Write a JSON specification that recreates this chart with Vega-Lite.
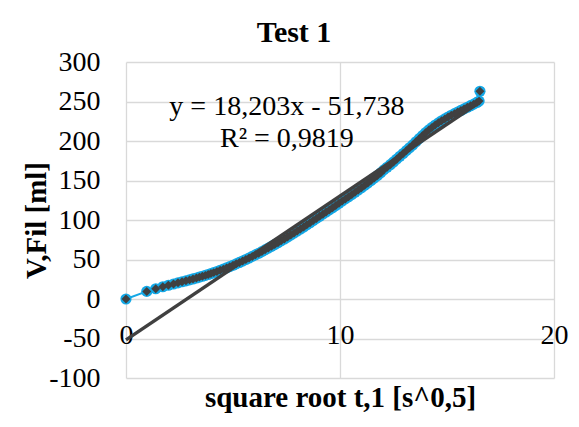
{
  "$schema": "https://vega.github.io/schema/vega-lite/v6.json",
  "width": 428,
  "height": 316,
  "autosize": {"type": "none"},
  "padding": {"left": 126, "top": 62, "right": 25, "bottom": 49},
  "background": "white",
  "title": {
    "text": "Test 1",
    "font": "Liberation Serif",
    "fontSize": 30,
    "fontWeight": "bold",
    "color": "black",
    "anchor": "middle",
    "frame": "group",
    "dx": -46,
    "baseline": "alphabetic",
    "offset": -24
  },
  "config": {
    "view": {"stroke": null},
    "axis": {
      "labelFont": "Liberation Serif",
      "labelFontSize": 28,
      "labelColor": "black",
      "titleFont": "Liberation Serif",
      "titleFontSize": 29,
      "titleFontWeight": "bold",
      "titleColor": "black",
      "gridColor": "#d9d9d9",
      "gridWidth": 1.3,
      "domain": false,
      "ticks": false,
      "tickSize": 0,
      "labelExpr": "'' + datum.value"
    }
  },
  "datasets": {
    "series": [
      {"x": 0, "y": 0}, {"x": 0.97, "y": 9.6}, {"x": 1.39, "y": 13}, {"x": 1.72, "y": 15.5},
      {"x": 1.98, "y": 17.4}, {"x": 2.22, "y": 19}, {"x": 2.43, "y": 20.5}, {"x": 2.62, "y": 21.8},
      {"x": 2.8, "y": 23}, {"x": 2.97, "y": 24.2}, {"x": 3.13, "y": 25.4}, {"x": 3.29, "y": 26.6},
      {"x": 3.43, "y": 27.7}, {"x": 3.57, "y": 28.8}, {"x": 3.71, "y": 29.9}, {"x": 3.84, "y": 31},
      {"x": 3.97, "y": 32.2}, {"x": 4.1, "y": 33.4}, {"x": 4.25, "y": 34.8}, {"x": 4.4, "y": 36.3},
      {"x": 4.55, "y": 37.8}, {"x": 4.7, "y": 39.4}, {"x": 4.85, "y": 41}, {"x": 5.0, "y": 42.7},
      {"x": 5.15, "y": 44.5}, {"x": 5.3, "y": 46.3}, {"x": 5.45, "y": 48.1}, {"x": 5.6, "y": 50},
      {"x": 5.75, "y": 51.9}, {"x": 5.9, "y": 53.9}, {"x": 6.05, "y": 55.9}, {"x": 6.2, "y": 57.9},
      {"x": 6.35, "y": 60}, {"x": 6.5, "y": 62.2}, {"x": 6.65, "y": 64.4}, {"x": 6.8, "y": 66.6},
      {"x": 6.95, "y": 68.9}, {"x": 7.1, "y": 71.2}, {"x": 7.25, "y": 73.6}, {"x": 7.4, "y": 76},
      {"x": 7.55, "y": 78.4}, {"x": 7.7, "y": 80.9}, {"x": 7.85, "y": 83.4}, {"x": 8.0, "y": 86},
      {"x": 8.15, "y": 88.6}, {"x": 8.3, "y": 91.2}, {"x": 8.45, "y": 93.9}, {"x": 8.6, "y": 96.6},
      {"x": 8.75, "y": 99.3}, {"x": 8.9, "y": 102}, {"x": 9.05, "y": 104.7}, {"x": 9.2, "y": 107.4},
      {"x": 9.35, "y": 110.1}, {"x": 9.5, "y": 112.8}, {"x": 9.65, "y": 115.5}, {"x": 9.8, "y": 118.3},
      {"x": 9.95, "y": 121.1}, {"x": 10.1, "y": 123.9}, {"x": 10.25, "y": 126.7}, {"x": 10.4, "y": 129.5},
      {"x": 10.55, "y": 132.3}, {"x": 10.7, "y": 135.1}, {"x": 10.85, "y": 138}, {"x": 11.0, "y": 140.9},
      {"x": 11.15, "y": 143.8}, {"x": 11.3, "y": 146.8}, {"x": 11.45, "y": 149.9}, {"x": 11.6, "y": 153},
      {"x": 11.75, "y": 156.2}, {"x": 11.9, "y": 159.6}, {"x": 12.05, "y": 163.5}, {"x": 12.2, "y": 166.8},
      {"x": 12.35, "y": 170}, {"x": 12.5, "y": 173.5}, {"x": 12.65, "y": 177}, {"x": 12.8, "y": 180.6},
      {"x": 12.95, "y": 184.2}, {"x": 13.1, "y": 187.8}, {"x": 13.25, "y": 191.4}, {"x": 13.4, "y": 195},
      {"x": 13.55, "y": 199}, {"x": 13.7, "y": 203}, {"x": 13.85, "y": 206.8}, {"x": 14.0, "y": 210.5},
      {"x": 14.15, "y": 214}, {"x": 14.3, "y": 217.2}, {"x": 14.45, "y": 220.2}, {"x": 14.6, "y": 223},
      {"x": 14.75, "y": 225.6}, {"x": 14.9, "y": 228}, {"x": 15.05, "y": 230.3}, {"x": 15.2, "y": 232.5},
      {"x": 15.35, "y": 234.6}, {"x": 15.5, "y": 236.7}, {"x": 15.65, "y": 238.7}, {"x": 15.8, "y": 240.7},
      {"x": 15.95, "y": 242.7}, {"x": 16.1, "y": 244.7}, {"x": 16.25, "y": 246.7}, {"x": 16.4, "y": 248.8},
      {"x": 16.5, "y": 250.5}, {"x": 16.54, "y": 263}
    ],
    "trend": [{"x": 0, "y": -51.738}, {"x": 16.54, "y": 249.34}],
    "labels": [
      {"x": 7.52, "y": 232.3, "text": "y = 18,203x - 51,738"},
      {"x": 7.52, "y": 192.9, "text": "R² = 0,9819"}
    ]
  },
  "encoding": {
    "x": {
      "field": "x", "type": "quantitative",
      "scale": {"domain": [0, 20], "nice": false, "zero": false},
      "axis": {
        "values": [0, 10, 20],
        "offset": -79,
        "labelPadding": 44,
        "labelBaseline": "alphabetic",
        "labelFlush": false,
        "labelOverlap": false,
        "title": "square root t,1 [s^0,5]",
        "titleY": 107,
        "titleBaseline": "alphabetic"
      }
    },
    "y": {
      "field": "y", "type": "quantitative",
      "scale": {"domain": [-100, 300], "nice": false, "zero": false},
      "axis": {
        "values": [-100, -50, 0, 50, 100, 150, 200, 250, 300],
        "labelPadding": 26,
        "labelOverlap": false,
        "labelFlush": false,
        "title": "V,Fil [ml]",
        "titleAngle": -90,
        "titleX": -81,
        "titleY": 158,
        "titleAlign": "center",
        "titleBaseline": "alphabetic"
      }
    }
  },
  "layer": [
    {
      "data": {"name": "series"},
      "mark": {"type": "line", "color": "#14A8E6", "strokeWidth": 2}
    },
    {
      "data": {"name": "series"},
      "mark": {"type": "point", "shape": "circle", "filled": true, "fill": "#14A8E6", "strokeWidth": 0, "size": 125, "opacity": 1}
    },
    {
      "data": {"name": "series"},
      "mark": {"type": "point", "shape": "diamond", "filled": true, "fill": "#404040", "strokeWidth": 0, "size": 80, "opacity": 1}
    },
    {
      "data": {"name": "trend"},
      "mark": {"type": "line", "color": "#404040", "strokeWidth": 3.5}
    },
    {
      "data": {"name": "labels"},
      "mark": {"type": "text", "font": "Liberation Serif", "fontSize": 28, "color": "black", "align": "center", "baseline": "alphabetic"},
      "encoding": {"text": {"field": "text"}}
    }
  ]
}
